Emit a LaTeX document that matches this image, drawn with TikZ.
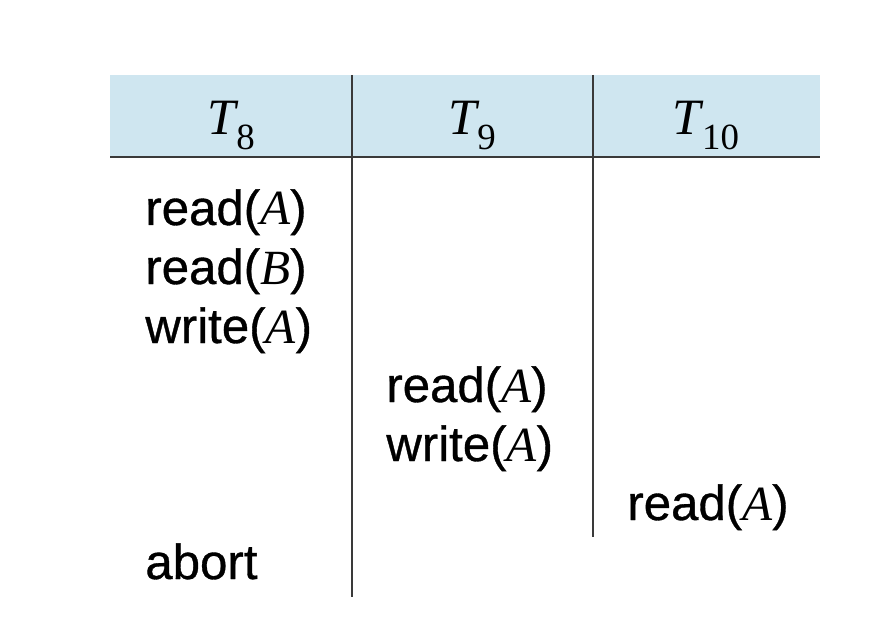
\documentclass[tikz,border=0pt]{standalone}
\usepackage{fontspec}
\setmainfont{Liberation Serif}
\newfontfamily\opfont{Liberation Sans}[FakeBold=0.7]
\usepackage{tikz}
\definecolor{headblue}{HTML}{CFE6F0}
\definecolor{rule}{HTML}{3A3A3A}
\newcommand{\var}[1]{{\rmfamily\itshape #1}}
\newcommand{\trans}[1]{\var{T}\kern0.02em\raisebox{-0.28em}{\fontsize{21}{21}\selectfont #1}}
\tikzset{
  op/.style={anchor=base west, inner sep=0pt, font=\opfont\fontsize{28}{32}\selectfont},
  head/.style={anchor=base, inner sep=0pt, font=\rmfamily\fontsize{29}{32}\selectfont},
  colrule/.style={draw=rule, line width=1.2pt}
}
\begin{document}
\begin{tikzpicture}[x=0.02cm,y=-0.02cm]
      \useasboundingbox (0,0) rectangle (890,642);
      \fill [headblue] (110,75) rectangle (820,157);
      \draw [colrule] (110,157) -- (820,157);
      \draw [colrule] (352,75) -- (352,597);
      \draw [colrule] (593,75) -- (593,537);
      \node [head] (t8) at (231,135) {\trans{8}};
      \node [head] (t9) at (472,135) {\trans{9}};
      \node [head] (t10) at (706,135) {\trans{10}};
      \node [op] (r1) at (145,225) {read(\var{A})};
      \node [op] (r2) at (145,284) {read(\var{B})};
      \node [op] (w1) at (145,343) {write(\var{A})};
      \node [op] (r3) at (386,402) {read(\var{A})};
      \node [op] (w2) at (386,461) {write(\var{A})};
      \node [op] (r4) at (627,520) {read(\var{A})};
      \node [op] (ab) at (145,579) {abort};
    \end{tikzpicture}
\end{document}
